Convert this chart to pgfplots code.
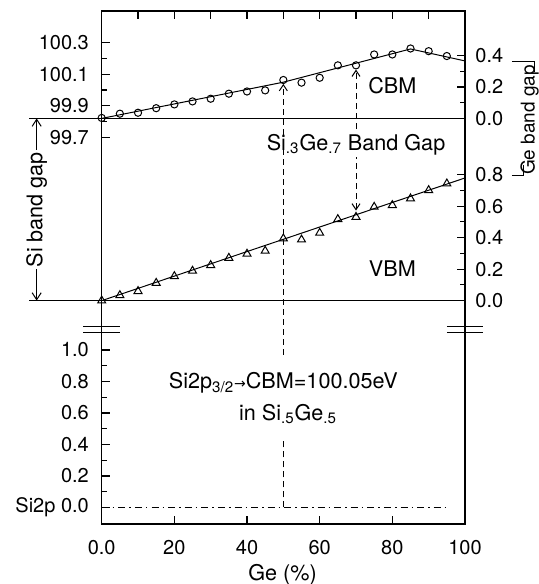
\documentclass[border=0pt]{standalone}
\usepackage{fontspec}
\setmainfont{TeX Gyre Heros}
\newfontfamily\symfont{DejaVu Sans}
\usepackage{pgfplots}
\pgfplotsset{compat=1.18}
\usepackage{pgfplotstable}
\usetikzlibrary{arrows.meta}

% CBM (left scale, eV) and VBM (right lower scale, eV above Si VBM)
\pgfplotstableread{
x E
0 99.823
5 99.850
10 99.856
15 99.885
20 99.909
25 99.928
30 99.945
35 99.977
40 99.991
45 99.998
50 100.064
55 100.047
60 100.078
65 100.157
70 100.157
75 100.226
80 100.226
85 100.264
90 100.247
95 100.216
}\cbm
\pgfplotstableread{
x v
0 0.000
5 0.034
10 0.060
15 0.112
20 0.155
25 0.189
30 0.225
35 0.271
40 0.297
45 0.316
50 0.394
55 0.387
60 0.430
65 0.517
70 0.531
75 0.595
80 0.606
85 0.648
90 0.701
95 0.743
}\vbm

\newcommand\ann{\fontsize{10.8}{13}\selectfont}
\begin{document}
\begin{tikzpicture}
\pgfplotsset{
  common/.style={
    width=181.65pt, height=256.5pt, scale only axis,
    at={(50.85pt,30pt)}, anchor=south west,
    xmin=0, xmax=100, ymin=-0.105, ymax=3.152,
    tick align=inside, major tick length=4pt, minor tick length=2.5pt,
    axis line style={line width=0.75pt},
    tick style={line width=0.6pt, black},
    tick label style={font=\fontsize{10}{12}\selectfont},
    clip=false,
  },
}
\begin{axis}[common,
  xtick={0,20,40,60,80,100}, xticklabels={0.0,20,40,60,80,100},
  xtick pos=bottom, ytick pos=left,
  ytick={0,0.2,0.4,0.6,0.8,1.0,2.35,2.55,2.75,2.95},
  yticklabels={Si2p 0.0,0.2,0.4,0.6,0.8,1.0,99.7,99.9,100.1,100.3},
  minor ytick={0.1,0.3,0.5,0.7,0.9,2.45,2.65,2.85},
  xticklabel style={yshift=-4.5pt},
  yticklabel style={xshift=-2.9pt},
]
% reference levels
\draw[line width=0.5pt] (axis cs:-20,2.47) -- (axis cs:100,2.47);
\draw[line width=0.5pt] (axis cs:-20,1.313) -- (axis cs:100,1.313);
\draw[line width=0.5pt, dash pattern=on 3.5pt off 2pt on 0.8pt off 2pt] (axis cs:0,0) -- (axis cs:95.4,0);

% fits and data
\addplot[black, line width=0.5pt] coordinates {(0,2.47) (50,2.70) (85,2.911) (100,2.835)};
\addplot[black, only marks, mark=o, mark size=1.8pt, mark options={line width=0.5pt}]
  table[x=x, y expr=\thisrow{E}-97.35] {\cbm};
\addplot[black, line width=0.5pt] coordinates {(0,1.313) (100,2.092)};
\addplot[black, only marks, mark=triangle, mark size=2.3pt, mark options={line width=0.5pt}]
  table[x=x, y expr=\thisrow{v}+1.313] {\vbm};

% Si.3Ge.7 band gap
\draw[dash pattern=on 3pt off 2pt, line width=0.5pt, {Straight Barb[length=3pt,width=4pt]}-{Straight Barb[length=3pt,width=4pt]}]
  (axis cs:70,1.885) -- (axis cs:70,2.78);
\node[fill=white, inner sep=1pt, font=\ann] at (axis cs:70,2.302)
  {Si\textsubscript{.3}Ge\textsubscript{.7} Band Gap};

% Si2p -> CBM in Si.5Ge.5
\draw[dash pattern=on 3pt off 2pt, line width=0.5pt] (axis cs:50,0) -- (axis cs:50,0.429);
\draw[dash pattern=on 3pt off 2pt, line width=0.5pt, -{Straight Barb[length=3pt,width=4pt]}]
  (axis cs:50,0.968) -- (axis cs:50,2.689);
\node[font=\ann] at (axis cs:50,0.79)
  {Si2p\textsubscript{3/2}{\symfont\fontsize{7}{8}\selectfont →}CBM=100.05eV};
\node[font=\ann] at (axis cs:51.3,0.595) {in Si\textsubscript{.5}Ge\textsubscript{.5}};

\node[font=\ann] at (axis cs:80,2.678) {CBM};
\node[font=\ann] at (axis cs:80,1.517) {VBM};
\node[font=\ann] at (axis cs:49.8,-0.429) {Ge (\%)};

% Si band gap
\draw[line width=0.5pt, {Straight Barb[length=3.5pt,width=4.5pt]}-{Straight Barb[length=3.5pt,width=4.5pt]}]
  (axis cs:-17.9,1.313) -- (axis cs:-17.9,2.47);
\node[fill=white, inner sep=1pt, rotate=90, font=\ann] at (axis cs:-17.9,1.89) {Si band gap};

% Ge band gap bracket
\draw[line width=0.5pt] (axis cs:112.9,2.830) -- (axis cs:119.2,2.830) -- (axis cs:119.2,2.765);
\draw[line width=0.5pt] (axis cs:112.9,2.105) -- (axis cs:116.0,2.105) -- (axis cs:116.0,2.175);
\node[rotate=90, font=\fontsize{9.5}{11}\selectfont] at (axis cs:117.8,2.46) {Ge band gap};

% axis breaks
\draw[line width=0.7pt] (axis cs:-5.1,1.148) -- (axis cs:5.1,1.148);
\draw[line width=0.7pt] (axis cs:-5.1,1.110) -- (axis cs:5.1,1.110);
\draw[line width=0.7pt] (axis cs:95,1.148) -- (axis cs:104.9,1.148);
\draw[line width=0.7pt] (axis cs:95,1.110) -- (axis cs:104.9,1.110);
\end{axis}

\begin{axis}[common,
  axis x line*=top, axis y line*=right,
  xtick={10,20,30,40,50,60,70,80,90}, xticklabels={,,,,,,,,},
  ytick={1.313,1.513,1.713,1.913,2.113,2.47,2.67,2.87},
  yticklabels={0.0,0.2,0.4,0.6,0.8,0.0,0.2,0.4},
  minor ytick={1.413,1.613,1.813,2.013,2.57,2.77},
  yticklabel style={xshift=1.7pt},
]
\end{axis}
\pgfresetboundingbox
\path[use as bounding box] (0,0) rectangle (269pt,292pt);
\end{tikzpicture}
\end{document}
